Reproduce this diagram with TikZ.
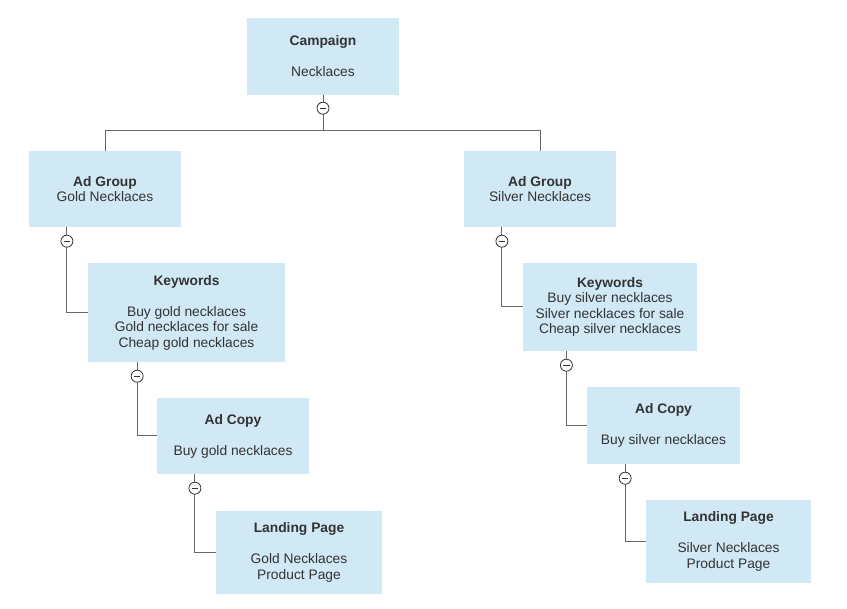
\documentclass[tikz,border=0pt]{standalone}
\usepackage{fontspec}
\setmainfont{Liberation Sans}
\usetikzlibrary{calc}
\definecolor{boxfill}{HTML}{D1E8F5}
\definecolor{txt}{HTML}{333333}
\definecolor{lin}{HTML}{666666}
\begin{document}
\begin{tikzpicture}[x=1pt,y=-1pt,
  box/.style={fill=boxfill, draw=none, inner sep=0pt, align=center, text=txt,
    font=\fontsize{13.8}{15.5}\selectfont},
  tog/.style={circle, draw=txt, fill=white, line width=0.8pt, minimum size=12pt, inner sep=0pt,
    path picture={\draw[txt, line width=0.9pt] ([xshift=-3.2pt]path picture bounding box.center) -- ([xshift=3.2pt]path picture bounding box.center);}},
  conn/.style={draw=lin, line width=1pt}]
\useasboundingbox (0,0) rectangle (847,609);

% boxes
\node[box, minimum width=152pt, minimum height=77pt] (cp) at (323,56.5) {\textbf{Campaign}\\[15.5pt]Necklaces};
\node[box, minimum width=152pt, minimum height=76pt] (agL) at (105,189) {\textbf{Ad Group}\\Gold Necklaces};
\node[box, minimum width=152pt, minimum height=76pt] (agR) at (540,189) {\textbf{Ad Group}\\Silver Necklaces};
\node[box, minimum width=197pt, minimum height=99pt] (kwL) at (186.5,312.5) {\textbf{Keywords}\\[15.5pt]Buy gold necklaces\\Gold necklaces for sale\\Cheap gold necklaces};
\node[box, minimum width=174pt, minimum height=88pt] (kwR) at (610,307) {\textbf{Keywords}\\Buy silver necklaces\\Silver necklaces for sale\\Cheap silver necklaces};
\node[box, minimum width=152pt, minimum height=76pt] (acL) at (233,436) {\textbf{Ad Copy}\\[15.5pt]Buy gold necklaces};
\node[box, minimum width=153pt, minimum height=77pt] (acR) at (663.5,425.5) {\textbf{Ad Copy}\\[15.5pt]Buy silver necklaces};
\node[box, minimum width=166pt, minimum height=83pt] (lpL) at (299,552.5) {\textbf{Landing Page}\\[15.5pt]Gold Necklaces\\ Product Page};
\node[box, minimum width=165pt, minimum height=83pt] (lpR) at (728.5,541.5) {\textbf{Landing Page}\\[15.5pt]Silver Necklaces\\ Product Page};

% campaign to ad groups
\draw[conn] (cp.south) -- ++(0,35) coordinate (hb);
\draw[conn] (hb) -| (agL.north);
\draw[conn] (hb) -| (agR.north);
\node[tog] (t0) at ($(cp.south)+(0,13)$) {};

% child connectors
\foreach \p/\c/\t in {agL/kwL/t1, kwL/acL/t2, acL/lpL/t3, agR/kwR/t4, kwR/acR/t5, acR/lpR/t6}{
  \draw[conn] ($(\p.south west)!0.25!(\p.south east)$) |- (\c.west);
  \node[tog] (\t) at ($(\p.south west)!0.25!(\p.south east)+(0,14)$) {};
}
\end{tikzpicture}
\end{document}
